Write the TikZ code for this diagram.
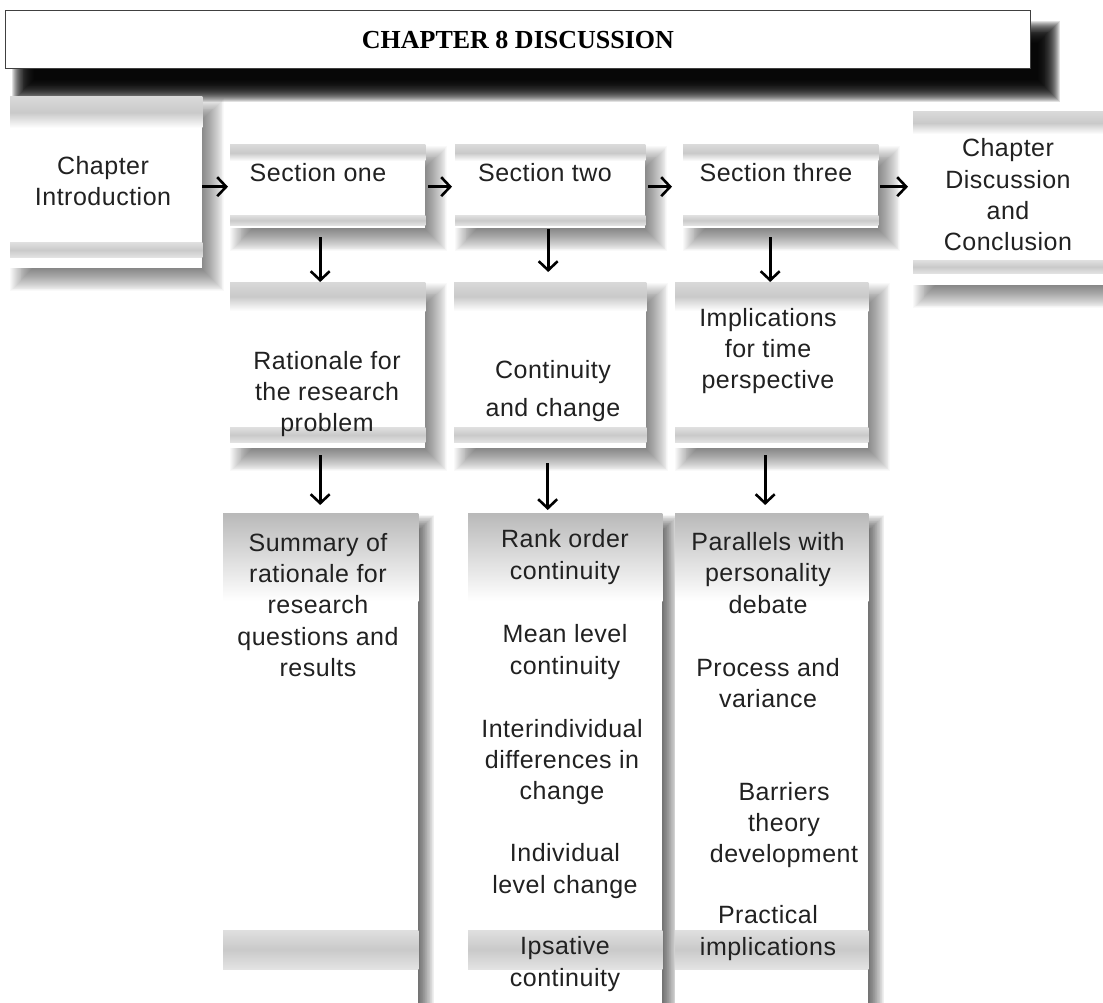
\documentclass[tikz,border=0pt]{standalone}
\usepackage{fontspec}
\setmainfont{Liberation Sans}[LetterSpace=2]
\newfontfamily\titlefont{Liberation Serif}
\usetikzlibrary{arrows.meta,calc}

\pgfdeclarelayer{paper}
\pgfdeclarelayer{shadow}
\pgfsetlayers{paper,shadow,main}

% soft shadow behind a node: #1 node, #2 x offset, #3 y offset (down), #4 blur, #5 per-layer opacity, #6 colour
\newcommand\softshadow[6]{%
  \begin{pgfonlayer}{shadow}
    \foreach \k in {0,...,23}{
      \pgfmathsetmacro\rr{#4*(1-2*\k/23)}
      \fill[#6, fill opacity=#5]
        ($(#1.north west)+(#2-\rr,#3-\rr)$) rectangle ($(#1.south east)+(#2+\rr,#3+\rr)$);
    }
  \end{pgfonlayer}}

% grey bands across the top and bottom of a panel
% #1 panel, #2 top band height, #3 bottom band start above south, #4 bottom band end above south
\newcommand\panelbands[4]{%
  \shade[topband] (#1.north west) rectangle ($(#1.north east)+(0,#2)$);
  \shade[botband] ($(#1.south west)+(0,-#3)$) rectangle ($(#1.south east)+(0,-#4)$);
}

\begin{document}
\begin{tikzpicture}[x=1pt,y=-1pt,
  panel/.style={fill=white, inner sep=0pt, anchor=north west},
  titlebox/.style={draw=black!75, line width=0.8pt, fill=white, inner sep=0pt, anchor=north west},
  topband/.style={top color=gray!30, bottom color=white, middle color=gray!42},
  botband/.style={top color=gray!25, bottom color=gray!22, middle color=gray!42},
  fadeband/.style={top color=gray!55, bottom color=white},
  lbl/.style={font=\fontsize{25}{31.3}\selectfont, text=black!87, align=center, inner sep=0pt},
  arr/.style={-{Straight Barb[length=9pt,width=19pt]}, line width=2.6pt},
]
\clip (0,0) rectangle (1103,1003);
\begin{pgfonlayer}{paper}
  \fill[white] (0,0) rectangle (1103,1003);
\end{pgfonlayer}

% ---------- title ----------
\node[titlebox, minimum width=1025pt, minimum height=58pt] (title) at (5,10) {};
\softshadow{title}{18}{22}{11}{0.12}{black}
\node[font=\titlefont\bfseries\fontsize{26}{30}\selectfont] (titletext) at ([yshift=-1pt]title.center) {CHAPTER 8 DISCUSSION};

% ---------- first row ----------
\node[panel, minimum width=192pt, minimum height=171pt] (intro) at (10,97) {};
\panelbands{intro}{31}{26}{11}
\node[lbl] (tintro) at (103,181) {Chapter\\Introduction};

\node[panel, minimum width=195pt, minimum height=83pt] (s1) at (230,145) {};
\panelbands{s1}{16}{13}{3}
\node[lbl] (ts1) at (318,173) {Section one};

\node[panel, minimum width=190pt, minimum height=83pt] (s2) at (455,145) {};
\panelbands{s2}{16}{13}{3}
\node[lbl] (ts2) at (545,173) {Section two};

\node[panel, minimum width=195pt, minimum height=83pt] (s3) at (683,145) {};
\panelbands{s3}{16}{13}{3}
\node[lbl] (ts3) at (776,173) {Section three};

\node[panel, minimum width=200pt, minimum height=173pt] (disc) at (913,112) {};
\panelbands{disc}{22}{25}{12}
\node[lbl] (tdisc) at (1008,195) {Chapter\\Discussion\\and\\Conclusion};

% ---------- second row ----------
\node[panel, minimum width=195pt, minimum height=166pt] (r1) at (230,282) {};
\panelbands{r1}{29}{21}{6}
\node[lbl] (tr1) at (327,394) {Rationale for\\the research\\problem};

\node[panel, minimum width=192pt, minimum height=166pt] (r2) at (454,282) {};
\panelbands{r2}{29}{21}{6}
\node[lbl, font=\fontsize{25}{38}\selectfont] (tr2) at (553,391) {Continuity\\and change};

\node[panel, minimum width=193pt, minimum height=166pt] (r3) at (675,282) {};
\panelbands{r3}{29}{21}{6}
\node[lbl] (tr3) at (768,351) {Implications\\for time\\perspective};

\foreach \p in {intro,s1,s2,s3,disc,r1,r2,r3}{
  \softshadow{\p}{11}{12}{11}{0.025}{black}
}

% ---------- third row ----------
\node[panel, minimum width=195pt, minimum height=500pt] (c1) at (223,513) {};
\node[panel, minimum width=194pt, minimum height=500pt] (c2) at (468,513) {};
\node[panel, minimum width=193pt, minimum height=500pt] (c3) at (675,513) {};
\foreach \c in {c1,c2,c3}{
  \softshadow{\c}{8}{10}{8}{0.03}{black}
  \shade[fadeband] (\c.north west) rectangle ($(\c.north east)+(0,88)$);
  \shade[botband] ($(\c.north west)+(0,417)$) rectangle ($(\c.north east)+(0,456)$);
}

\node[lbl] (tc1) at (318,605) {Summary of\\rationale for\\research\\questions and\\results};

\node[lbl] (tc2a) at (565,557) {Rank order\\continuity};
\node[lbl] (tc2b) at (565,652) {Mean level\\continuity};
\node[lbl] (tc2c) at (562,762) {Interindividual\\differences in\\change};
\node[lbl] (tc2d) at (565,871) {Individual\\level change};
\node[lbl] (tc2e) at (565,964) {Ipsative\\continuity};

\node[lbl] (tc3a) at (768,573) {Parallels with\\personality\\debate};
\node[lbl] (tc3b) at (768,683) {Process and\\variance};
\node[lbl] (tc3c) at (784,825) {Barriers\\theory\\development};
\node[lbl] (tc3d) at (768,933) {Practical\\implications};

% ---------- connectors ----------
\draw[arr] (intro.east |- s1.west) -- ([xshift=-2pt]s1.west);
\draw[arr, shorten <=3pt, shorten >=3pt] (s1.east) -- (s2.west);
\draw[arr, shorten <=3pt, shorten >=11pt] (s2.east) -- (s3.west);
\draw[arr, shorten <=2pt, shorten >=5pt] (s3.east) -- (s3.east -| disc.west);

\draw[arr, shorten <=9pt] ([xshift=-7.5pt]s1.south) -- ([xshift=-7.5pt]r1.north);
\draw[arr, shorten <=1pt, shorten >=10pt] ([xshift=-2pt]s2.south) -- ([xshift=-2pt]s2.south |- r2.north);
\draw[arr, shorten <=9pt] ([xshift=-10.5pt]s3.south) -- ([xshift=-10.5pt]s3.south |- r3.north);

\draw[arr, shorten <=7pt, shorten >=8pt] ([xshift=-7.5pt]r1.south) -- ([xshift=-7.5pt]r1.south |- c1.north);
\draw[arr, shorten <=15pt, shorten >=3pt] ([xshift=-2.5pt]r2.south) -- ([xshift=-2.5pt]r2.south |- c2.north);
\draw[arr, shorten <=7pt, shorten >=8pt] ([xshift=-6.5pt]r3.south) -- ([xshift=-6.5pt]r3.south |- c3.north);
\end{tikzpicture}
\end{document}
